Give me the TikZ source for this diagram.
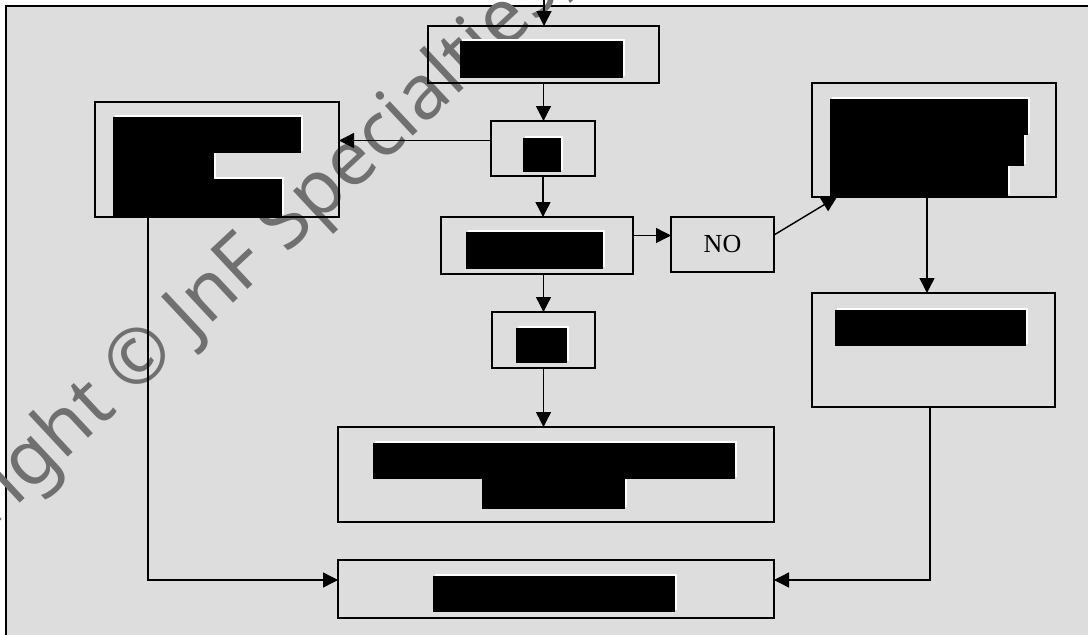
\documentclass[tikz,border=0pt]{standalone}
\usepackage{fontspec}
\setmainfont{Liberation Serif}
\newfontfamily\wmfont{Noto Sans}
\usetikzlibrary{arrows.meta}
\definecolor{bg}{HTML}{DDDDDD}
\definecolor{wmgray}{HTML}{707070}
\tikzset{
 box/.style={draw=black, line width=1.8pt, rectangle, anchor=north west, inner sep=0pt, outer sep=0pt},
 conn/.style={line width=1.4pt, -{Triangle[width=15pt,length=15pt]}},
 shadowbox/.style={fill=white},
 redact/.style={fill=black},
}
\begin{document}
\begin{tikzpicture}[x=1pt,y=-1pt]
\useasboundingbox (0,0) rectangle (1088,635);
\fill[bg] (6,6) rectangle (1100,650);
\draw[line width=2pt] (6,650) -- (6,6) -- (1100,6);
% watermark
\node[text=wmgray, font=\wmfont\fontsize{76}{76}\selectfont, rotate=43, anchor=base west, inner sep=0pt] (wm) at (-138,650) {Copyright © JnF Specialties, LLC};
% redaction shadows
\begin{scope}[shift={(2,-2)}]
\fill[shadowbox] (460,41) rectangle (623,78);
\fill[shadowbox] (523,138) rectangle (561,172);
\fill[shadowbox] (113,117) rectangle (301,153);
\fill[shadowbox] (113,153) rectangle (214,179);
\fill[shadowbox] (113,179) rectangle (282,216);
\fill[shadowbox] (466,232) rectangle (603,269);
\fill[shadowbox] (830,99) rectangle (1028,135);
\fill[shadowbox] (830,135) rectangle (1024,166);
\fill[shadowbox] (830,166) rectangle (1008,196);
\fill[shadowbox] (835,310) rectangle (1026,346);
\fill[shadowbox] (516,328) rectangle (567,363);
\fill[shadowbox] (373,443) rectangle (735,479);
\fill[shadowbox] (482,479) rectangle (625,509);
\fill[shadowbox] (433,576) rectangle (675,612);
\end{scope}
% redactions
\fill[redact] (460,41) rectangle (623,78);
\fill[redact] (523,138) rectangle (561,172);
\fill[redact] (113,117) rectangle (301,153);
\fill[redact] (113,153) rectangle (214,179);
\fill[redact] (113,179) rectangle (282,216);
\fill[redact] (466,232) rectangle (603,269);
\fill[redact] (830,99) rectangle (1028,135);
\fill[redact] (830,135) rectangle (1024,166);
\fill[redact] (830,166) rectangle (1008,196);
\fill[redact] (835,310) rectangle (1026,346);
\fill[redact] (516,328) rectangle (567,363);
\fill[redact] (373,443) rectangle (735,479);
\fill[redact] (482,479) rectangle (625,509);
\fill[redact] (433,576) rectangle (675,612);
% boxes
\node[box, minimum width=231pt, minimum height=57pt] (b1) at (428,26) {};
\node[box, minimum width=104pt, minimum height=55pt] (b2) at (491,121) {};
\node[box, minimum width=244pt, minimum height=115pt] (b3) at (95,102) {};
\node[box, minimum width=192pt, minimum height=57pt] (b4) at (441,217) {};
\node[box, minimum width=103pt, minimum height=55pt, font=\fontsize{26}{26}\selectfont] (no) at (671,217) {NO};
\node[box, minimum width=244pt, minimum height=114pt] (b5) at (812,83) {};
\node[box, minimum width=243pt, minimum height=114pt] (b6) at (812,293) {};
\node[box, minimum width=103pt, minimum height=56pt] (b7) at (492,312) {};
\node[box, minimum width=436pt, minimum height=95pt] (b8) at (338,427) {};
\node[box, minimum width=436pt, minimum height=58pt] (b9) at (338,560) {};
% connectors
\coordinate (top) at (544,0);
\draw[conn] (top) -- (top |- b1.north);
\draw[conn] (b1.south) -- (b1.south |- b2.north);
\draw[conn] ([yshift=8pt]b2.west) -- ([yshift=8pt]b2.west -| b3.east);
\draw[conn] (b2.south) -- (b2.south |- b4.north);
\draw[conn] ([yshift=10pt]b4.east) -- ([yshift=10pt]b4.east -| no.west);
\draw[conn] ([yshift=9.5pt]no.east) -- ([xshift=25pt]b5.south west);
\draw[conn] ([xshift=-7pt]b5.south) -- ([xshift=-7pt]b5.south |- b6.north);
\draw[conn] (b7.north |- b4.south) -- (b7.north);
\draw[conn] (b7.south) -- (b7.south |- b8.north);
\draw[conn] ([xshift=53pt]b3.south west) |- ([yshift=9pt]b9.west);
\draw[conn] ([xshift=-3.5pt]b6.south) |- ([yshift=9pt]b9.east);
\end{tikzpicture}
\end{document}
